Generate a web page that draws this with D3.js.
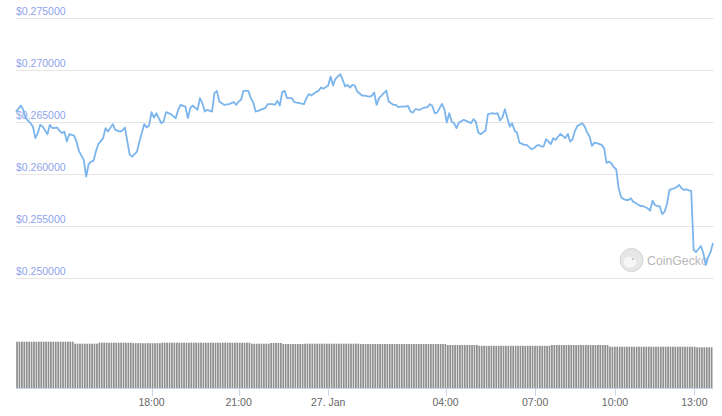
<!DOCTYPE html>
<html><head><meta charset="utf-8">
<script src="https://cdn.jsdelivr.net/npm/d3@7"></script>
<style>
html,body{margin:0;padding:0;background:#fff;}
svg{display:block;font-family:"Liberation Sans",Arial,sans-serif;}
</style></head>
<body><svg id="c" width="722" height="416"></svg>
<script>
// ordinal 5-minute slot index on the axis, and price (USD)
const slots = [0,2,3,4,6,7,8,9,10,11,13,14,15,17,18,19,20,21,22,24,25,26,28,29,30,31,32,33,34,36,37,38,40,41,43,44,45,47,48,50,51,53,54,55,56,57,58,60,61,62,64,66,67,68,70,71,72,73,75,76,77,78,79,81,82,83,84,85,86,88,90,91,92,93,94,96,97,98,99,100,102,103,104,106,107,108,109,110,111,112,114,115,117,119,120,121,122,124,125,126,127,129,130,131,132,134,135,136,137,138,139,140,141,143,144,146,147,148,149,150,152,153,154,156,157,158,159,161,162,163,164,165,167,168,170,171,172,173,174,176,177,178,179,180,181,182,183,185,186,188,189,190,191,192,194,195,197,198,199,200,201,202,204,205,206,207,208,210,211,213,214,215,216,217,218,219,220,221,222,223,224,225,227,228,229,230,231,232,234,235,236,237,238,239,240,242,243,244,245,246,247,248,249,250,251,252,253,254,255,256,257,258,259,261,262,263,264,265,266,267,268,269,270,272,273,274,275,276,277,278,279,280,281,282,283,284,285,286,287,288];
const prices = [0.26594,0.26655,0.26613,0.26533,0.26485,0.26452,0.26341,0.26389,0.26469,0.26452,0.26379,0.26469,0.26437,0.26443,0.26411,0.26389,0.26404,0.26308,0.26379,0.26366,0.26308,0.26218,0.26132,0.25971,0.26090,0.26115,0.26122,0.26212,0.26283,0.26341,0.26437,0.26404,0.26476,0.26421,0.26404,0.26416,0.26443,0.26180,0.26163,0.26212,0.26308,0.26476,0.26443,0.26462,0.26591,0.26539,0.26581,0.26485,0.26501,0.26591,0.26572,0.26533,0.26613,0.26661,0.26645,0.26533,0.26630,0.26655,0.26613,0.26726,0.26678,0.26597,0.26613,0.26597,0.26774,0.26796,0.26693,0.26678,0.26661,0.26668,0.26687,0.26661,0.26693,0.26710,0.26796,0.26796,0.26726,0.26687,0.26597,0.26604,0.26623,0.26630,0.26668,0.26668,0.26661,0.26700,0.26655,0.26784,0.26796,0.26726,0.26726,0.26687,0.26678,0.26668,0.26726,0.26765,0.26751,0.26784,0.26796,0.26828,0.26816,0.26847,0.26934,0.26847,0.26912,0.26957,0.26902,0.26838,0.26854,0.26828,0.26854,0.26847,0.26790,0.26751,0.26751,0.26741,0.26748,0.26780,0.26661,0.26726,0.26774,0.26799,0.26693,0.26661,0.26661,0.26639,0.26645,0.26645,0.26652,0.26597,0.26587,0.26620,0.26613,0.26630,0.26639,0.26668,0.26652,0.26581,0.26587,0.26671,0.26620,0.26491,0.26581,0.26501,0.26485,0.26437,0.26491,0.26517,0.26507,0.26485,0.26524,0.26501,0.26395,0.26379,0.26414,0.26572,0.26581,0.26575,0.26581,0.26510,0.26543,0.26620,0.26452,0.26485,0.26414,0.26395,0.26298,0.26276,0.26276,0.26235,0.26244,0.26266,0.26276,0.26260,0.26260,0.26331,0.26308,0.26283,0.26341,0.26324,0.26356,0.26382,0.26341,0.26382,0.26308,0.26331,0.26414,0.26459,0.26485,0.26452,0.26395,0.26356,0.26266,0.26298,0.26293,0.26276,0.26244,0.26103,0.26115,0.26100,0.26061,0.26042,0.25862,0.25775,0.25756,0.25746,0.25746,0.25763,0.25730,0.25717,0.25703,0.25688,0.25688,0.25666,0.25643,0.25739,0.25698,0.25688,0.25684,0.25611,0.25633,0.25708,0.25843,0.25859,0.25869,0.25891,0.25859,0.25843,0.25849,0.25838,0.25833,0.25265,0.25245,0.25274,0.25303,0.25236,0.25120,0.25197,0.25245,0.25332];
// 24h volume per slot (millions USD)
const volumes = [
926,926,926,926,926,926,926,926,926,926,926,926,926,926,926,926,926,926,926,926,926,926,926,926,
886,886,886,886,886,886,886,886,886,886,906,906,906,906,906,906,906,906,906,906,906,906,906,906,
896,896,896,896,896,896,896,896,896,896,896,896,906,906,906,906,906,906,906,906,906,906,906,906,
906,906,906,906,906,906,906,906,906,906,906,906,906,906,906,906,906,906,906,906,906,906,906,906,
906,886,886,886,886,886,886,886,886,900,900,900,900,900,880,880,880,880,880,880,880,880,880,886,
886,886,886,886,886,886,886,886,886,886,886,886,886,886,886,886,886,886,886,886,886,886,880,880,
880,880,880,880,880,880,880,880,880,880,880,880,880,880,880,880,880,880,880,880,880,880,880,880,
880,880,880,880,880,880,880,880,880,880,860,860,860,860,860,860,860,860,860,860,860,860,860,844,
844,844,844,844,844,844,844,844,844,844,844,844,844,844,844,844,844,844,844,844,844,844,844,844,
844,844,844,844,844,860,860,860,860,860,860,860,860,860,860,860,860,860,860,860,860,860,860,860,
860,860,860,860,860,826,826,826,826,826,826,826,826,826,826,826,826,826,826,826,826,826,826,826,
826,826,826,826,826,826,826,826,826,826,826,826,826,826,826,826,826,814,814,814,814,814,814,814];
const tickSlots = [56,92,129,177.5,214.5,247.5,280.3];
const tickLabels = ["18:00","21:00","27. Jan","04:00","07:00","10:00","13:00"];
const priceTicks = [0.250,0.255,0.260,0.265,0.270,0.275];

const svg = d3.select("#c");
const left = 16, right = 713;
const x = d3.scaleLinear().domain([0,288]).range([left,right]);
const y = d3.scaleLinear().domain([0.25,0.275]).range([277.5,17.7]);
const yv = d3.scaleLinear().domain([0,1000]).range([388,338]);

// gridlines + y labels
const gy = svg.append("g");
gy.selectAll("line").data(priceTicks).join("line")
  .attr("x1",left).attr("x2",right+1)
  .attr("y1",d=>Math.round(y(d))+0.5).attr("y2",d=>Math.round(y(d))+0.5)
  .attr("stroke","#e6e6e6").attr("stroke-width",1);
gy.selectAll("text").data(priceTicks).join("text")
  .attr("x",left).attr("y",d=>y(d)-3)
  .attr("font-size",10.5).attr("fill","#8fa3ec")
  .text(d=>"$"+d.toFixed(6));

// watermark
const wm = svg.append("g");
wm.append("circle").attr("cx",631.5).attr("cy",260).attr("r",11.5)
  .attr("fill","#e6e6e6").attr("stroke","#d6d6d6").attr("stroke-width",1);
wm.append("ellipse").attr("cx",630).attr("cy",262).attr("rx",6.5).attr("ry",5.5).attr("fill","#f6f6f6");
wm.append("circle").attr("cx",633).attr("cy",259).attr("r",1.2).attr("fill","#c8c8c8");
wm.append("text").attr("x",647).attr("y",264.5).attr("font-size",12.3)
  .attr("fill","#b8b8b8").text("CoinGecko");

// price line
const pts = slots.map((s,i)=>[s,prices[i]]);
svg.append("path").datum(pts)
  .attr("fill","none").attr("stroke","#7cb5ec").attr("stroke-width",1.8)
  .attr("stroke-linejoin","round")
  .attr("d",d3.line().x(d=>x(d[0])).y(d=>y(d[1])));

// volume bars
const step = x(1)-x(0);
svg.append("g").selectAll("rect").data(volumes).join("rect")
  .attr("x",(d,i)=>x(i)+0.2).attr("width",step-0.7)
  .attr("y",d=>yv(d)).attr("height",d=>yv(0)-yv(d))
  .attr("fill","#8e8e8e");

// x axis
const gx = svg.append("g");
gx.append("line").attr("x1",left).attr("x2",right).attr("y1",388.5).attr("y2",388.5)
  .attr("stroke","#ccd6eb");
gx.selectAll(".tk").data(tickSlots).join("line").attr("class","tk")
  .attr("x1",d=>Math.round(x(d))+0.5).attr("x2",d=>Math.round(x(d))+0.5)
  .attr("y1",388).attr("y2",396).attr("stroke","#ccd6eb");
gx.selectAll("text").data(tickSlots).join("text")
  .attr("x",d=>x(d)).attr("y",406).attr("text-anchor","middle")
  .attr("font-size",10.5).attr("fill","#666")
  .text((d,i)=>tickLabels[i]);
</script></body></html>
